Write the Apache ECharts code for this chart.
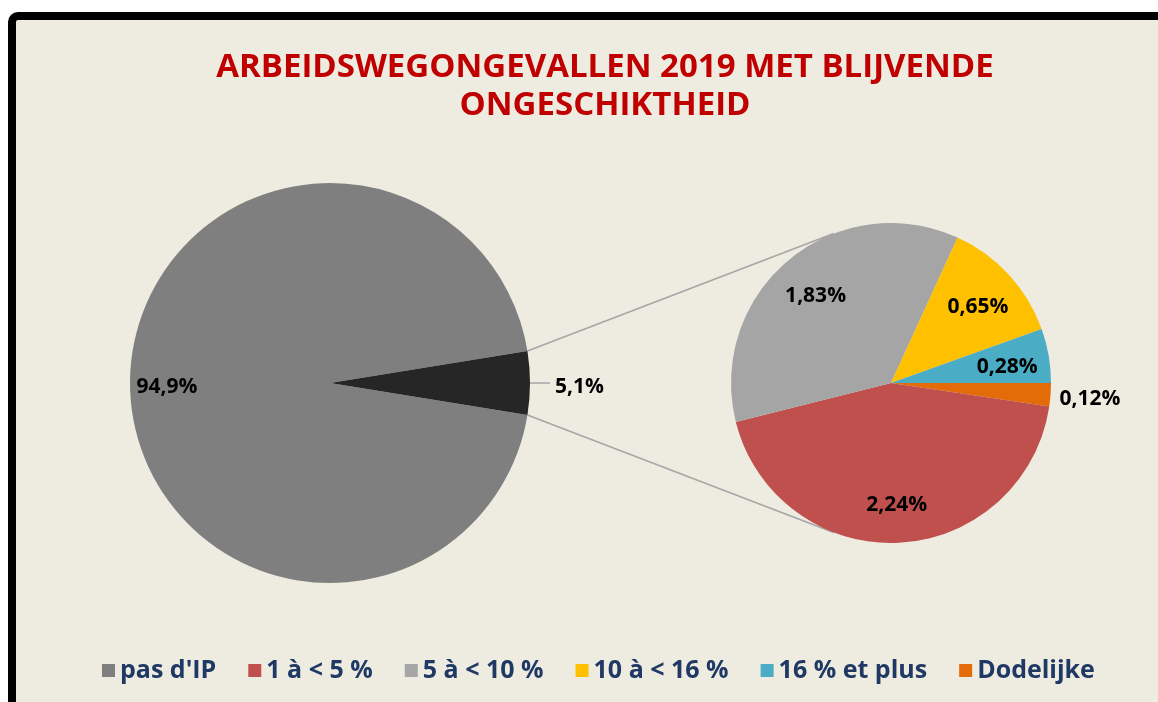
<!DOCTYPE html>
<html>
<head>
<meta charset="utf-8">
<script src="https://cdn.jsdelivr.net/npm/echarts@6/dist/echarts.min.js"></script>
<style>
  html, body { margin: 0; padding: 0; background: #fff; }
  #main { width: 1158px; height: 702px; }
</style>
</head>
<body>
<div id="main"></div>
<script>
// data
var mainNames = ["pas d'IP", 'IP'];
var mainValues = [94.9, 5.1];
var ipNames = ['Dodelijke', '1 à < 5 %', '5 à < 10 %', '10 à < 16 %', '16 % et plus'];
var ipValues = [0.12, 2.24, 1.83, 0.65, 0.28];
var legendNames = ["pas d'IP", '1 à < 5 %', '5 à < 10 %', '10 à < 16 %', '16 % et plus', 'Dodelijke'];

var mainColors = ['#7F7F7F', '#262626'];
var ipColors = ['#E36C09', '#C0504D', '#A5A5A5', '#FFC000', '#4BACC6'];

// layout of the two pies (px)
var bigC = [330, 383], bigR = 200;
var smallC = [891, 383], smallR = 160;

var font = '"Open Sans", "Liberation Sans", sans-serif';
var labelStyle = { color: '#000', fontWeight: 'bold', fontSize: 21, fontFamily: font, offset: [0, 4] };

function pct(v, d) {
  return v.toFixed(d).replace('.', ',') + '%';
}

// the IP slice is centred on the horizontal axis
var ipShare = mainValues[1] / (mainValues[0] + mainValues[1]);
var bigStart = -ipShare * 360 / 2;

// connector lines: from the IP slice edges, tangent to the second pie
function tangentLine(sign) {
  var a = sign * ipShare * Math.PI; // half slice angle
  var p = [bigC[0] + bigR * Math.cos(a), bigC[1] - bigR * Math.sin(a)];
  var dx = p[0] - smallC[0], dy = p[1] - smallC[1];
  var d = Math.sqrt(dx * dx + dy * dy);
  var th = Math.atan2(dy, dx);
  var al = Math.acos(smallR / d);
  var t = th + (sign > 0 ? al : -al);
  var q = [smallC[0] + smallR * Math.cos(t), smallC[1] + smallR * Math.sin(t)];
  return {
    type: 'line',
    z: 1,
    shape: { x1: p[0], y1: p[1], x2: q[0], y2: q[1] },
    style: { stroke: '#A6A6A6', lineWidth: 1.6 }
  };
}

var chart = echarts.init(document.getElementById('main'));

var option = {
  backgroundColor: 'transparent',
  animation: false,
  title: {
    text: 'ARBEIDSWEGONGEVALLEN 2019 MET BLIJVENDE\nONGESCHIKTHEID',
    left: 600,
    textAlign: 'center',
    top: 44,
    textStyle: {
      color: '#C00000',
      fontWeight: 'bold',
      fontSize: 33,
      lineHeight: 38,
      fontFamily: font
    }
  },
  legend: {
    data: legendNames,
    left: 97,
    top: 653,
    icon: 'rect',
    itemWidth: 13,
    itemHeight: 13,
    itemGap: 32,
    selectedMode: false,
    textStyle: { color: '#1F3864', fontWeight: 'bold', fontSize: 25, fontFamily: font }
  },
  graphic: [
    {
      type: 'rect',
      z: -10,
      shape: { x: 12, y: 16, width: 1200, height: 800, r: 6 },
      style: { fill: '#EEECE1', stroke: '#000', lineWidth: 8 }
    },
    tangentLine(1),
    tangentLine(-1)
  ],
  series: [
    {
      type: 'pie',
      center: bigC,
      radius: [0, bigR],
      startAngle: bigStart,
      clockwise: true,
      silent: true,
      labelLine: { show: true, length: 8, length2: 12, lineStyle: { color: '#A6A6A6', width: 1.5 } },
      data: mainNames.map(function (n, i) {
        return {
          name: n,
          value: mainValues[i],
          itemStyle: { color: mainColors[i] },
          label: i === 1
            ? Object.assign({ show: true, position: 'outside', formatter: pct(mainValues[i], 1) }, labelStyle)
            : { show: false },
          labelLine: { show: i === 1 }
        };
      })
    },
    {
      type: 'pie',
      center: smallC,
      radius: [0, smallR],
      startAngle: 0,
      clockwise: true,
      silent: true,
      data: ipNames.map(function (n, i) {
        return {
          name: n,
          value: ipValues[i],
          itemStyle: { color: ipColors[i] },
          label: i === 0
            ? Object.assign({ show: true, position: 'outside', formatter: pct(ipValues[i], 2) }, labelStyle)
            : { show: false },
          labelLine: { show: false, length: 4, length2: 0 }
        };
      })
    },
    // label-only rings so the inside labels sit where the original has them
    {
      type: 'pie',
      center: bigC,
      radius: [120, bigR],
      startAngle: bigStart,
      clockwise: true,
      silent: true,
      itemStyle: { color: 'transparent' },
      data: mainNames.map(function (n, i) {
        return {
          name: n,
          value: mainValues[i],
          label: i === 0
            ? Object.assign({ show: true, position: 'inside', formatter: pct(mainValues[i], 1) }, labelStyle)
            : { show: false }
        };
      })
    },
    {
      type: 'pie',
      center: smallC,
      radius: [70, smallR],
      startAngle: 0,
      clockwise: true,
      silent: true,
      itemStyle: { color: 'transparent' },
      data: ipNames.map(function (n, i) {
        return {
          name: n,
          value: ipValues[i],
          label: i > 0
            ? Object.assign({ show: true, position: 'inside', formatter: pct(ipValues[i], 2) }, labelStyle)
            : { show: false }
        };
      })
    }
  ]
};

chart.setOption(option);
</script>
</body>
</html>
